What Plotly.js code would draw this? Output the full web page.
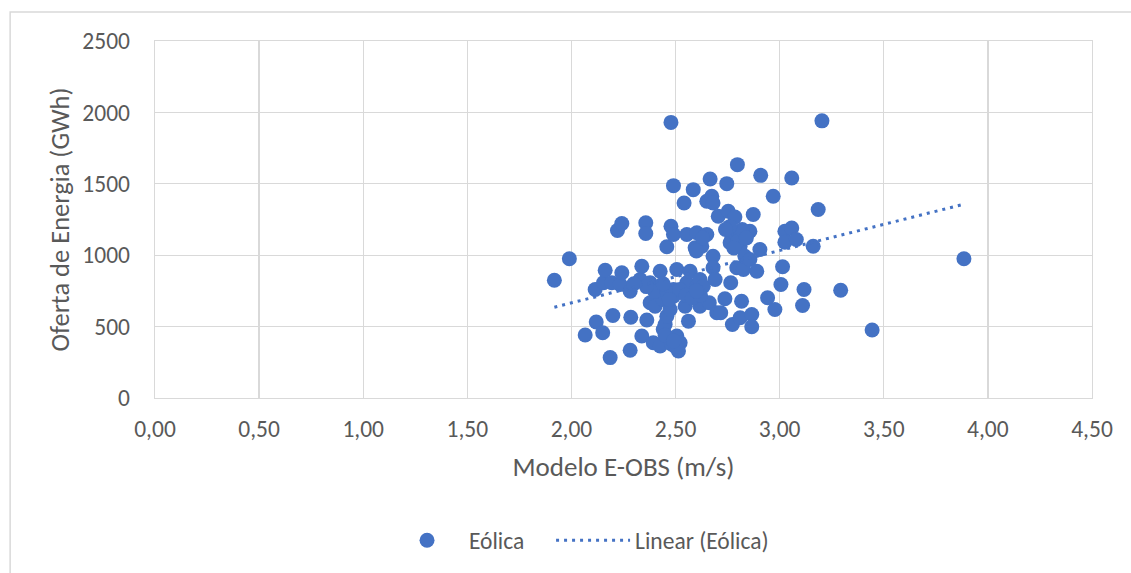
<!DOCTYPE html>
<html>
<head>
<meta charset="utf-8">
<script src="https://cdn.plot.ly/plotly-3.0.1.min.js"></script>
<style>
  html, body { margin: 0; padding: 0; background: #ffffff; }
  #chart { width: 1131px; height: 573px; }
</style>
</head>
<body>
<div id="chart"></div>
<script>
// Scatter data: Modelo E-OBS (m/s) vs Oferta de Energia (GWh)
const windSpeed = [
  1.918, 1.99, 2.066, 2.114, 2.119, 2.15, 2.154, 2.162, 2.186, 2.194,
  2.199, 2.221, 2.234, 2.242, 2.242, 2.282, 2.282, 2.285, 2.33, 2.338,
  2.338, 2.357, 2.357, 2.362, 2.378, 2.378, 2.393, 2.402, 2.426, 2.426,
  2.426, 2.44, 2.441, 2.45, 2.458, 2.458, 2.474, 2.478, 2.478, 2.482,
  2.49, 2.49, 2.49, 2.49, 2.506, 2.506, 2.514, 2.522, 2.541, 2.546,
  2.554, 2.554, 2.562, 2.57, 2.585, 2.594, 2.602, 2.602, 2.617, 2.617,
  2.626, 2.633, 2.65, 2.65, 2.662, 2.666, 2.674, 2.68, 2.68, 2.68,
  2.69, 2.698, 2.705, 2.717, 2.737, 2.746, 2.753, 2.762, 2.765, 2.773,
  2.785, 2.794, 2.797, 2.81, 2.81, 2.817, 2.826, 2.833, 2.833, 2.857,
  2.857, 2.866, 2.866, 2.873, 2.89, 2.905, 2.909, 2.942, 2.969, 2.977,
  3.006, 3.014, 3.025, 3.025, 3.058, 3.058, 3.08, 3.11, 3.117, 3.161,
  3.185, 3.203, 3.293, 3.444, 3.885,
  2.40, 2.46, 2.52, 2.44, 2.36, 2.30, 2.47, 2.55, 2.58, 2.62, 2.60,
  2.77, 2.79, 2.80, 2.82, 2.76, 2.74, 2.84, 2.78, 2.63, 2.60,
  2.47, 2.50, 2.45, 2.49
];
const energy = [
  825, 975, 441, 760, 532, 457, 807, 895, 283, 807,
  578, 1173, 795, 1222, 877, 748, 334, 566, 830, 923,
  434, 1227, 1152, 546, 807, 667, 387, 643, 888, 783,
  364, 690, 480, 515, 1059, 573, 620, 1930, 1203, 376,
  1487, 1145, 760, 713, 900, 434, 329, 387, 1366, 643,
  1145, 807, 538, 888, 1459, 1052, 1157, 783, 830, 643,
  1063, 783, 1378, 1145, 667, 1534, 1413, 1366, 993, 912,
  830, 597, 1273, 597, 695, 1501, 1308, 1087, 807, 515,
  1268, 912, 1634, 1063, 562, 678, 900, 1145, 993, 1168,
  970, 585, 499, 1285, 888, 1040, 1559, 702, 1413, 620,
  795, 919, 1168, 1091, 1541, 1191, 1110, 648, 760, 1063,
  1320, 1941, 755, 476, 975,
  745, 740, 760, 800, 780, 800, 690, 720, 700, 720, 750,
  1120, 1150, 1100, 1180, 1200, 1180, 1120, 1050, 1120, 1030,
  420, 360, 440, 400
];

// Linear trendline endpoints
const trendX = [1.918, 3.885];
const trendY = [636, 1357];

const xTicks = [0, 0.5, 1, 1.5, 2, 2.5, 3, 3.5, 4, 4.5];
const yTicks = [0, 500, 1000, 1500, 2000, 2500];

const seriesName = 'Eólica';
const trendName = 'Linear (Eólica)';
const xTitle = 'Modelo E-OBS (m/s)';
const yTitle = 'Oferta de Energia (GWh)';

const blue = '#4472C4';
const grid = '#d9d9d9';
const textColor = '#595959';
const fontFamily = 'Carlito, Calibri, "Open Sans", "Liberation Sans", sans-serif';

const traces = [
  {
    type: 'scatter',
    mode: 'markers',
    name: seriesName,
    x: windSpeed,
    y: energy,
    marker: { color: blue, size: 15, line: { width: 0 } },
    legend: 'legend',
    hoverinfo: 'x+y'
  },
  {
    type: 'scatter',
    mode: 'lines',
    name: trendName,
    x: trendX,
    y: trendY,
    line: { color: blue, width: 3, dash: '3px,5px' },
    legend: 'legend2',
    hoverinfo: 'skip'
  }
];

const legendFont = { family: fontFamily, size: 23.5, color: textColor };

const layout = {
  width: 1131,
  height: 573,
  margin: { l: 154.5, r: 38.5, t: 41, b: 174.3, pad: 0 },
  paper_bgcolor: '#ffffff',
  plot_bgcolor: '#ffffff',
  separators: ',.',
  font: { family: fontFamily, size: 23.5, color: textColor },
  showlegend: true,
  legend: {
    orientation: 'h',
    x: 0.2455,
    xanchor: 'left',
    y: -0.395,
    yanchor: 'middle',
    font: legendFont,
    itemwidth: 74
  },
  legend2: {
    orientation: 'h',
    x: 0.4227,
    xanchor: 'left',
    y: -0.395,
    yanchor: 'middle',
    font: legendFont,
    itemwidth: 74
  },
  xaxis: {
    range: [0, 4.5],
    tickvals: xTicks,
    tickformat: '.2f',
    showgrid: true,
    gridcolor: grid,
    gridwidth: 1.3,
    zeroline: false,
    showline: true,
    linecolor: grid,
    linewidth: 1.3,
    mirror: true,
    ticks: '',
    ticklabelstandoff: 9,
    tickfont: { family: fontFamily, size: 23.5, color: textColor },
    title: { text: xTitle, font: { family: fontFamily, size: 27, color: textColor }, standoff: 15 }
  },
  yaxis: {
    range: [0, 2500],
    tickvals: yTicks,
    tickformat: 'd',
    showgrid: true,
    gridcolor: grid,
    gridwidth: 1.3,
    zeroline: false,
    showline: true,
    linecolor: grid,
    linewidth: 1.3,
    mirror: true,
    ticks: '',
    ticklabelstandoff: 19,
    tickfont: { family: fontFamily, size: 23.5, color: textColor },
    title: { text: yTitle, font: { family: fontFamily, size: 26.5, color: textColor }, standoff: 5 }
  },
  shapes: [
    {
      type: 'rect',
      xref: 'paper', yref: 'paper',
      x0: -0.1546, x1: 1.1,
      y0: -0.52, y1: 1.081,
      line: { color: grid, width: 1.5 },
      fillcolor: 'rgba(0,0,0,0)',
      layer: 'below'
    }
  ]
};

Plotly.newPlot('chart', traces, layout, { displayModeBar: false, staticPlot: true });
</script>
</body>
</html>
